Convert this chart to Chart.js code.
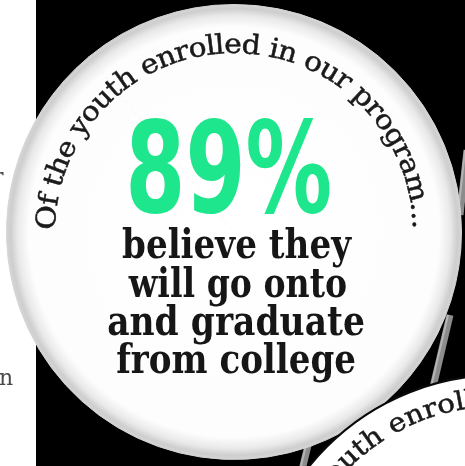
<!DOCTYPE html>
<html>
<head>
<meta charset="utf-8">
<script src="https://cdn.jsdelivr.net/npm/chart.js@4.4.1/dist/chart.umd.min.js"></script>
<style>
  html, body { margin: 0; padding: 0; background: #000; overflow: hidden; }
  canvas { display: block; }
</style>
</head>
<body>
<canvas id="badge" width="465" height="466"></canvas>
<script>
// Badge content
const headline = 'Of the youth enrolled in our program...';
const statValue = 89;
const statLabel = statValue + '%';
const bodyLines = ['believe they', 'will go onto', 'and graduate', 'from college'];
const sliceLabels = ['Believe they will graduate', 'Other'];
const sliceValues = [statValue, 100 - statValue];

// Radial fill for the badge: white face, grey rim
function rimFill(chart) {
  const area = chart.chartArea;
  if (!area) return '#ffffff';
  const cx = (area.left + area.right) / 2;
  const cy = (area.top + area.bottom) / 2;
  const r = Math.min(area.width, area.height) / 2;
  const g = chart.ctx.createRadialGradient(cx, cy, 0, cx, cy, r);
  g.addColorStop(0, '#ffffff');
  g.addColorStop(0.9, '#fdfdfd');
  g.addColorStop(0.95, '#e9e9e9');
  g.addColorStop(0.98, '#cecece');
  g.addColorStop(1, '#d6d6d6');
  return g;
}

// Text along a circle, letters standing outward
function arcText(ctx, text, cx, cy, r, a0, a1, gap, stretch) {
  const chars = [...text];
  const widths = chars.map(ch => ctx.measureText(ch).width * stretch);
  const total = widths.reduce((s, w) => s + w, 0);
  if (a1 != null) gap = ((a1 - a0) * r - total) / (chars.length - 1);
  let pos = a0 * r;
  chars.forEach((ch, i) => {
    const a = (pos + widths[i] / 2) / r;
    ctx.save();
    ctx.translate(cx + r * Math.cos(a), cy + r * Math.sin(a));
    ctx.rotate(a + Math.PI / 2);
    ctx.scale(stretch, 1);
    ctx.fillText(ch, -widths[i] / 2 / stretch, 0);
    ctx.strokeText(ch, -widths[i] / 2 / stretch, 0);
    ctx.restore();
    pos += widths[i] + gap;
  });
}

// Squeeze a line of text into a box (left, right, baseline)
function fitText(ctx, text, left, right, baseline) {
  const m = ctx.measureText(text);
  const ink = m.actualBoundingBoxLeft + m.actualBoundingBoxRight;
  const sx = (right - left) / ink;
  ctx.save();
  ctx.translate(left + m.actualBoundingBoxLeft * sx, baseline);
  ctx.scale(sx, 1);
  ctx.fillText(text, 0, 0);
  ctx.restore();
}

function drawPole(ctx, x0, y0, x1, y1) {
  ctx.lineCap = 'butt';
  ctx.strokeStyle = '#8c8c8c';
  ctx.lineWidth = 7;
  ctx.beginPath(); ctx.moveTo(x0, y0); ctx.lineTo(x1, y1); ctx.stroke();
  ctx.strokeStyle = '#b4b4b4';
  ctx.lineWidth = 2;
  ctx.beginPath(); ctx.moveTo(x0 - 2, y0); ctx.lineTo(x1 - 2, y1); ctx.stroke();
}

const badgePlugin = {
  id: 'badge',
  beforeDraw(chart) {
    const ctx = chart.ctx;
    ctx.save();
    ctx.fillStyle = '#000';
    ctx.fillRect(0, 0, chart.width, chart.height);
    ctx.fillStyle = '#fff';
    ctx.fillRect(0, 0, 36, chart.height);
    // bits of the neighbouring panel's text
    ctx.fillStyle = '#4a4a4a';
    ctx.font = '22px "DejaVu Serif"';
    ctx.fillText('r', -7, 184);
    ctx.fillText('n', -1, 385);
    // stand poles behind the badges
    drawPole(ctx, 467, 150, 460, 215);
    drawPole(ctx, 450, 315, 430, 400);
    drawPole(ctx, 313, 425, 302, 470);
    ctx.restore();
  },
  afterDatasetsDraw(chart) {
    const ctx = chart.ctx;
    const area = chart.chartArea;
    const cx = (area.left + area.right) / 2;
    const cy = (area.top + area.bottom) / 2;
    ctx.save();

    // curved headline
    ctx.fillStyle = '#1a1a1a';
    ctx.strokeStyle = '#1a1a1a';
    ctx.lineWidth = 0.5;
    ctx.font = '27px "DejaVu Serif"';
    ctx.textBaseline = 'alphabetic';
    arcText(ctx, headline, cx, cy, 179, Math.PI * 1.003, Math.PI * 1.995, 0, 1.1);

    // big percentage
    ctx.fillStyle = '#1ee68c';
    ctx.font = 'bold 126px "DejaVu Sans"';
    fitText(ctx, statLabel, 130, 330, 212);

    // body copy
    ctx.fillStyle = '#161616';
    ctx.font = 'bold 41px "DejaVu Serif"';
    const boxes = [[122, 352, 258], [128, 346, 297], [108, 364, 335], [117, 355, 373]];
    bodyLines.forEach((line, i) => fitText(ctx, line, boxes[i][0], boxes[i][1], boxes[i][2]));

    // second badge peeking in at the bottom right
    const bx = 500, by = 620, br = 245;
    ctx.beginPath();
    ctx.arc(bx, by, br, 0, Math.PI * 2);
    ctx.fillStyle = '#ffffff';
    ctx.fill();
    ctx.lineWidth = 2.2;
    ctx.strokeStyle = '#0a0a0a';
    ctx.stroke();
    ctx.fillStyle = '#1a1a1a';
    ctx.strokeStyle = '#1a1a1a';
    ctx.lineWidth = 0.5;
    ctx.font = '26px "DejaVu Serif"';
    const stretch2 = 1.13;
    const lead = [...'Of the y'].reduce((s, ch) => s + ctx.measureText(ch).width * stretch2, 0);
    arcText(ctx, headline, bx, by, 214, 219.5 * Math.PI / 180 - lead / 214, null, 0, stretch2);

    ctx.restore();
  }
};

new Chart(document.getElementById('badge'), {
  type: 'pie',
  data: {
    labels: sliceLabels,
    datasets: [{
      data: sliceValues,
      backgroundColor: c => rimFill(c.chart),
      borderColor: c => rimFill(c.chart),
      borderWidth: 1,
      hoverOffset: 0
    }]
  },
  options: {
    responsive: false,
    animation: false,
    events: [],
    layout: { padding: { left: 6, right: 3, top: 4, bottom: 6 } },
    plugins: {
      legend: { display: false },
      tooltip: { enabled: false }
    }
  },
  plugins: [badgePlugin]
});
</script>
</body>
</html>
